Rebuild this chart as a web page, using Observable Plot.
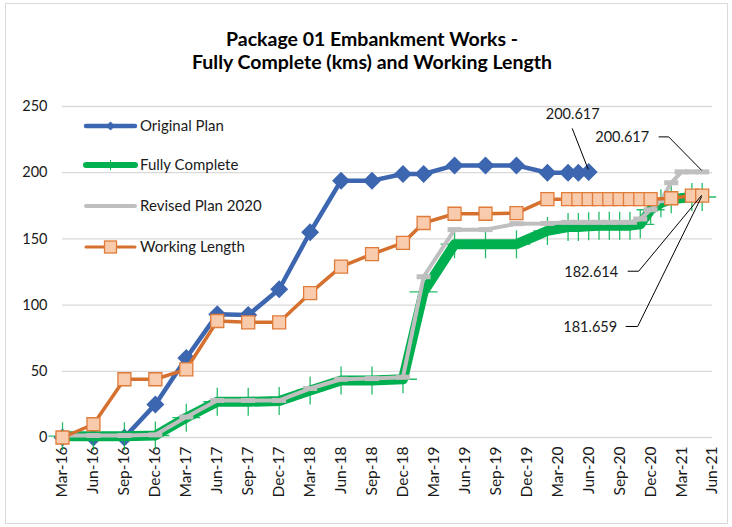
<!DOCTYPE html>
<html><head><meta charset="utf-8">
<script src="https://cdn.jsdelivr.net/npm/d3@7"></script>
<script src="https://cdn.jsdelivr.net/npm/@observablehq/plot@0.6"></script>
<style>
html,body{margin:0;padding:0;background:#fff;}
#wrap{position:relative;width:732px;height:527px;overflow:hidden;font-family:Lato,"Open Sans",sans-serif;}
#frame{position:absolute;left:5px;top:3px;width:723px;height:521px;border:1px solid #d9d9d9;box-sizing:border-box;}
#chart{position:absolute;left:0;top:0;}
#title{position:absolute;left:6px;width:732px;top:28px;text-align:center;font-weight:bold;font-size:19.5px;line-height:22.5px;color:#000;}
</style></head><body>
<div id="wrap"><div id="frame"></div><div id="chart"></div>
<div id="title">Package 01 Embankment Works -<br>Fully Complete (kms) and Working Length</div></div>
<script>
// x positions are month indexes counted from Mar-16 (0) to Jun-21 (63)
const tickLabels = ["Mar-16","Jun-16","Sep-16","Dec-16","Mar-17","Jun-17","Sep-17","Dec-17","Mar-18","Jun-18","Sep-18","Dec-18","Mar-19","Jun-19","Sep-19","Dec-19","Mar-20","Jun-20","Sep-20","Dec-20","Mar-21","Jun-21"];
const yTicks = [0, 50, 100, 150, 200, 250];

const planMonths = [0,3,6,9,12,15,18,21,24,27,30,33,35,38,41,44,47,49,50,51];
const planValues = [0,0,0,25,60,93,92.5,112,155,194,194,199,199,205.5,205.5,205.5,200,200,200,200.617];

const completeMonths = [0,3,6,9,12,15,18,21,24,27,30,33,35,38,41,44,47,49,50,51,52,53,54,55,56,57,58,59,61,62];
const completeValues = [1,1,1,1.5,15,27,27,27.5,35.5,43,43,44,110,146,146,146,156,159,159,159.5,160,160,160,160,161,172,177,180,181.659,181.659];

const revisedMonths = [0,3,6,9,12,15,18,21,24,27,30,33,35,38,41,44,47,49,50,51,52,53,54,55,56,57,58,59,60,61,62];
const revisedValues = [1.5,1.5,1.5,2,15.5,28,28,28,37,44,44.5,45.5,121.4,157,157,161.5,161.7,162.5,162.5,162.5,162.5,162.5,162.5,162.5,165,172,179,192.4,200.617,200.617,200.617];

const workingMonths = [0,3,6,9,12,15,18,21,24,27,30,33,35,38,41,44,47,49,50,51,52,53,54,55,56,57,59,61,62];
const workingValues = [0,10,44,44,51.5,88,87,87,109,129,138.5,147,162,169,169,169.5,180,180,180,180,180,180,180,180,180,180,180.7,182.614,182.614];

const seriesNames = ["Original Plan","Fully Complete","Revised Plan 2020","Working Length"];

const zip = (ms, vs) => ms.map((m, i) => ({m, v: vs[i]}));
const plan = zip(planMonths, planValues);
const complete = zip(completeMonths, completeValues);
const revised = zip(revisedMonths, revisedValues);
const working = zip(workingMonths, workingValues);

const rad = s => Math.sqrt(s / Math.PI);
const diamond = {draw(c, s){const r = rad(s); c.moveTo(0,-r); c.lineTo(r,0); c.lineTo(0,r); c.lineTo(-r,0); c.closePath();}};
const square = {draw(c, s){const r = rad(s); c.rect(-r,-r,2*r,2*r);}};
const plus = {draw(c, s){const r = rad(s); c.moveTo(-r,0); c.lineTo(r,0); c.moveTo(0,-r); c.lineTo(0,r);}};
const dash = {draw(c, s){const r = rad(s); c.moveTo(-r,0); c.lineTo(r,0);}};

const BLUE = "#3D66B0", GREEN = "#00B050", GRAY = "#BFBFBF", ORANGE = "#D5702E", ORANGE_FILL = "#F8CBAD", ORANGE_EDGE = "#E07B39";

const lastPlan = plan[plan.length-1];
const lastRev = revised[revised.length-1];
const lastWork = working[working.length-1];
const lastComp = complete[complete.length-1];

const fmt = d => d.v.toFixed(3);
const FS = 14.5;

const plot = Plot.plot({
  width: 732, height: 527,
  marginLeft: 62, marginRight: 20, marginTop: 106, marginBottom: 90,
  style: {fontFamily: "Lato, 'Open Sans', sans-serif", fontSize: FS + "px", color: "#1a1a1a", background: "transparent"},
  x: {type: "linear", domain: [0, 63]},
  y: {domain: [0, 250]},
  marks: [
    Plot.gridY(yTicks, {stroke: "#d9d9d9", strokeOpacity: 1, strokeWidth: 1.3}),
    Plot.axisY(yTicks, {tickSize: 0, tickPadding: 15, fontSize: FS, label: null}),
    Plot.axisX(tickLabels.map((_, i) => i * 3), {tickSize: 0, tickPadding: 9, tickRotate: -90, fontSize: 15.5, label: null, tickFormat: m => tickLabels[m / 3]}),
    Plot.line(plan, {x: "m", y: "v", stroke: BLUE, strokeWidth: 4.5}),
    Plot.dot(plan, {x: "m", y: "v", symbol: diamond, r: 9, fill: BLUE, stroke: "none"}),
    Plot.line(complete, {x: "m", y: "v", stroke: GREEN, strokeWidth: 10}),
    Plot.dot(complete, {x: "m", y: "v", symbol: plus, r: 14, fill: "none", stroke: GREEN, strokeWidth: 1.3, strokeOpacity: 0.85}),
    Plot.line(revised, {x: "m", y: "v", stroke: GRAY, strokeWidth: 4}),
    Plot.dot(revised, {x: "m", y: "v", symbol: dash, r: 7, fill: "none", stroke: GRAY, strokeWidth: 5}),
    Plot.line(working, {x: "m", y: "v", stroke: ORANGE, strokeWidth: 3.5}),
    Plot.dot(working, {x: "m", y: "v", symbol: square, r: 6.5, fill: ORANGE_FILL, stroke: ORANGE_EDGE, strokeWidth: 1.3}),
    Plot.text([lastPlan], {x: "m", y: "v", text: fmt, dx: -16, dy: -58, fill: "#1a1a1a", fontSize: FS}),
    Plot.text([lastRev], {x: "m", y: "v", text: fmt, dx: -80, dy: -35, fill: "#1a1a1a", fontSize: FS}),
    Plot.text([lastWork], {x: "m", y: "v", text: fmt, dx: -111, dy: 77, fill: "#1a1a1a", fontSize: FS}),
    Plot.text([lastComp], {x: "m", y: "v", text: fmt, dx: -112, dy: 130, fill: "#1a1a1a", fontSize: FS})
  ]
});
document.getElementById("chart").appendChild(plot);

// leader lines for the data labels, positioned through the plot's scales
const sx = plot.scale("x"), sy = plot.scale("y");
const svg = d3.select(plot);
const leaders = [
  [lastPlan, [[-16,-43],[0,-2]]],
  [lastRev, [[-43,-34.5],[-33,-34.5],[0,-1]]],
  [lastWork, [[-74,76],[-63,76],[0,0]]],
  [lastComp, [[-76,130],[-64,130],[0,0]]]
];
const g = svg.append("g").attr("fill", "none").attr("stroke", "#000").attr("stroke-width", 1);
for (const [d, pts] of leaders) {
  const px = sx.apply(d.m), py = sy.apply(d.v);
  g.append("path").attr("d", d3.line()(pts.map(([a, b]) => [px + a, py + b])));
}

// legend (inside plot area, top-left)
const lg = svg.append("g").attr("font-family", "Lato, 'Open Sans', sans-serif").attr("font-size", 15).attr("text-anchor", "start");
const legendY = [126, 165, 206, 247];
const styles = [
  {stroke: BLUE, w: 4.5},
  {stroke: GREEN, w: 6},
  {stroke: GRAY, w: 4},
  {stroke: ORANGE, w: 3}
];
seriesNames.forEach((name, i) => {
  const y = legendY[i];
  lg.append("line").attr("x1", 86).attr("x2", 135).attr("y1", y).attr("y2", y)
    .attr("stroke", styles[i].stroke).attr("stroke-width", styles[i].w).attr("stroke-linecap", "round");
  if (i === 0) lg.append("path").attr("d", `M110.5,${y-4.5}L115,${y}L110.5,${y+4.5}L106,${y}Z`).attr("fill", BLUE);
  if (i === 1) lg.append("path").attr("d", `M110.5,${y-5}V${y+5}`).attr("stroke", GREEN).attr("stroke-width", 1);
  if (i === 3) lg.append("rect").attr("x", 104.5).attr("y", y - 6).attr("width", 12).attr("height", 12)
    .attr("fill", ORANGE_FILL).attr("stroke", ORANGE_EDGE).attr("stroke-width", 1.3);
  lg.append("text").attr("x", 140).attr("y", y).attr("dy", "0.35em").attr("text-anchor", "start").attr("fill", "#1a1a1a").text(name);
});
</script>
</body></html>
